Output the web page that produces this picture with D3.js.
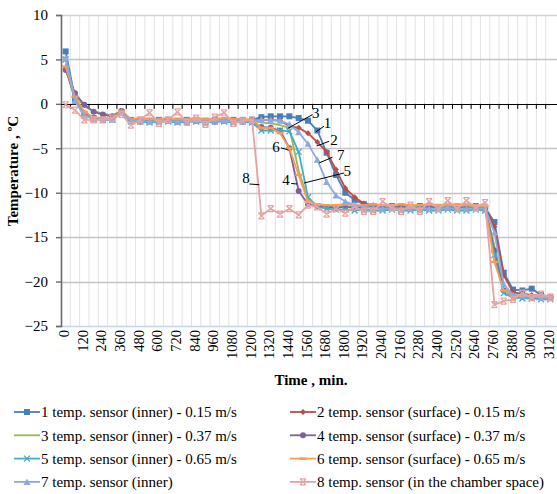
<!DOCTYPE html>
<html>
<head>
<meta charset="utf-8">
<script src="https://cdn.jsdelivr.net/npm/d3@7"></script>
<style>
body { margin: 0; background: #fff; }
svg, svg text { font-family: "Liberation Serif", "Times New Roman", "DejaVu Serif", serif; }
</style>
</head>
<body>
<div id="chart"></div>
<script>
// categories (minutes) and tick labels
var minutes = [0,60,120,180,240,300,360,420,480,540,600,660,720,780,840,900,960,1020,1080,1140,
  1200,1260,1320,1380,1440,1500,1560,1620,1680,1740,1800,1860,1920,1980,2040,2100,2160,2220,2280,2340,
  2400,2460,2520,2580,2640,2700,2760,2820,2880,2940,3000,3060,3120];
var xTickLabels = [0,120,240,360,480,600,720,840,960,1080,1200,1320,1440,1560,1680,1800,1920,2040,
  2160,2280,2400,2520,2640,2760,2880,3000,3120];
var yTicks = [10,5,0,-5,-10,-15,-20,-25];

// series values, one per minute category
var s1 = [5.9,0.6,-1.2,-1.6,-1.7,-1.7,-0.9,-1.8,-1.9,-1.9,
  -1.8,-1.9,-1.9,-1.8,-1.9,-1.9,-1.8,-1.9,-1.8,-1.8,
  -1.8,-1.5,-1.4,-1.4,-1.4,-1.6,-1.9,-3.0,-5.5,-8.0,
  -10.0,-10.8,-11.3,-11.5,-11.6,-11.5,-11.6,-11.6,-11.5,-11.6,
  -11.6,-11.5,-11.6,-11.6,-11.5,-11.7,-13.3,-19.0,-20.9,-21.0,
  -20.8,-21.5,-21.7];
var s2 = [4.0,0.5,-1.0,-1.6,-1.7,-1.7,-0.9,-1.9,-1.9,-2.0,
  -1.9,-1.9,-2.0,-1.9,-1.9,-2.0,-1.9,-1.9,-2.0,-1.9,
  -1.9,-1.8,-1.8,-1.9,-2.5,-2.7,-3.3,-4.3,-5.4,-7.4,
  -9.5,-10.5,-11.2,-11.4,-11.6,-11.6,-11.5,-11.6,-11.6,-11.7,
  -11.6,-11.6,-11.7,-11.6,-11.6,-11.7,-13.8,-19.3,-21.2,-21.4,
  -21.5,-21.6,-21.7];
var s3 = [4.5,1.0,-0.3,-0.8,-1.1,-1.3,-0.8,-1.8,-1.8,-1.9,
  -1.8,-1.8,-1.9,-1.8,-1.8,-1.9,-1.8,-1.8,-1.9,-1.8,
  -1.9,-2.1,-2.2,-2.4,-2.7,-7.5,-10.8,-11.4,-11.5,-11.5,
  -11.6,-11.5,-11.6,-11.6,-11.5,-11.6,-11.6,-11.5,-11.6,-11.6,
  -11.5,-11.6,-11.6,-11.5,-11.6,-11.6,-16.0,-20.8,-21.5,-21.6,
  -21.6,-21.7,-21.7];
var s4 = [3.8,1.2,-0.1,-0.9,-1.2,-1.4,-0.8,-1.9,-2.0,-1.9,
  -2.0,-1.9,-2.0,-2.0,-1.9,-2.0,-2.0,-1.9,-2.0,-2.0,
  -2.0,-2.6,-2.7,-3.0,-5.0,-9.8,-11.3,-11.5,-11.6,-11.7,
  -11.6,-11.7,-11.7,-11.6,-11.7,-11.7,-11.6,-11.7,-11.7,-11.6,
  -11.7,-11.7,-11.6,-11.7,-11.7,-11.7,-16.5,-21.0,-21.6,-21.7,
  -21.7,-21.8,-21.8];
var s5 = [5.0,0.4,-1.3,-1.7,-1.8,-1.8,-1.0,-2.0,-2.0,-2.1,
  -2.0,-2.0,-2.1,-2.0,-2.0,-2.1,-2.0,-2.0,-2.1,-2.0,
  -2.1,-3.0,-3.0,-3.0,-3.1,-5.4,-10.5,-11.6,-11.8,-11.9,
  -11.9,-12.0,-11.9,-12.0,-12.0,-11.9,-12.0,-12.0,-11.9,-12.0,
  -12.0,-11.9,-12.0,-12.0,-11.9,-12.0,-17.0,-21.3,-21.8,-21.9,
  -21.9,-22.0,-22.0];
var s6 = [4.2,0.8,-0.9,-1.5,-1.6,-1.6,-0.8,-1.7,-1.6,-1.7,
  -1.7,-1.6,-1.7,-1.7,-1.6,-1.7,-1.7,-1.6,-1.7,-1.7,
  -1.8,-2.7,-2.7,-3.3,-5.0,-8.0,-11.0,-11.3,-11.4,-11.4,
  -11.3,-11.4,-11.4,-11.3,-11.4,-11.4,-11.3,-11.4,-11.4,-11.3,
  -11.4,-11.4,-11.3,-11.4,-11.4,-11.5,-17.8,-21.0,-21.5,-21.6,
  -21.6,-21.7,-21.7];
var s7 = [5.2,0.3,-1.3,-1.7,-1.8,-1.8,-0.9,-1.9,-1.9,-2.0,
  -1.9,-1.9,-2.0,-1.9,-1.9,-2.0,-1.9,-1.9,-2.0,-1.9,
  -1.9,-1.8,-1.8,-1.9,-2.3,-3.2,-4.5,-6.3,-8.8,-10.3,
  -11.0,-11.4,-11.6,-11.7,-11.8,-11.7,-11.8,-11.8,-11.7,-11.8,
  -11.8,-11.7,-11.8,-11.8,-11.7,-11.8,-14.5,-20.3,-21.5,-21.6,
  -21.7,-21.8,-21.8];
var s8 = [-0.1,-0.7,-1.8,-1.8,-1.8,-1.6,-1.2,-2.4,-1.8,-1.0,
  -2.2,-1.8,-0.9,-2.1,-1.6,-2.3,-1.5,-1.0,-2.2,-1.9,
  -1.8,-12.6,-11.8,-12.4,-11.8,-12.5,-11.4,-11.6,-12.4,-11.8,
  -12.3,-11.6,-12.1,-12.1,-11.0,-11.7,-12.1,-11.4,-12.1,-11.0,
  -11.8,-10.9,-11.8,-10.9,-11.7,-11.1,-22.6,-22.2,-22.0,-21.3,
  -21.8,-21.4,-21.8];

var seriesNames = [
  "1 temp. sensor (inner) - 0.15 m/s",
  "2  temp. sensor (surface)  - 0.15 m/s",
  "3 temp. sensor (inner)  - 0.37 m/s",
  "4 temp. sensor (surface)  - 0.37 m/s",
  "5 temp. sensor (inner)  - 0.65 m/s",
  "6 temp. sensor (surface)   - 0.65 m/s",
  "7  temp. sensor (inner)",
  "8 temp. sensor (in the chamber space)"
];
var seriesValues = [s1, s2, s3, s4, s5, s6, s7, s8];
var seriesColors = ["#4a7ebb", "#be4b48", "#98b954", "#7d60a0", "#46aac5", "#f59d56", "#8eaadc", "#e6a3a2"];
var seriesMarkers = ["square", "diamond", "none", "circle", "x", "dash", "triangle", "star"];

// numbered callouts, in (category index, value) units
var callouts = [
  {t: "3", at: [26.84, -1.0], from: [26.48, -1.21], to: [23.81, -2.78]},
  {t: "1", at: [28.09, -2.14], from: [27.73, -2.51], to: [26.84, -3.16]},
  {t: "2", at: [28.8, -4.02], from: [28.27, -4.21], to: [26.93, -4.74]},
  {t: "7", at: [29.52, -5.72], from: [28.62, -6.01], to: [27.2, -6.65]},
  {t: "5", at: [30.22, -7.52], from: [29.87, -7.78], to: [25.59, -8.91]},
  {t: "6", at: [22.57, -4.88], from: [23.1, -4.96], to: [23.81, -5.15]},
  {t: "4", at: [23.64, -8.53], from: [24.2, -8.96], to: [24.84, -9.02]},
  {t: "8", at: [19.36, -8.34], from: [19.71, -9.02], to: [20.78, -9.1]}
];

var W = 557, H = 494;
var plot = {left: 61, right: 555, top: 15, bottom: 326};
var FONT = "'Liberation Serif', 'Times New Roman', serif";

var svg = d3.select("#chart")
  .append("svg")
    .attr("width", W)
    .attr("height", H)
    .attr("font-family", FONT);

var x = d3.scaleBand()
  .domain(minutes)
  .range([plot.left, plot.right])
  .paddingInner(0)
  .paddingOuter(0);

var y = d3.scaleLinear()
  .domain([-25, 10])
  .range([plot.bottom, plot.top]);

// category index -> pixel (for callouts)
function xi(i) { return plot.left + x.step() * (i + 0.5); }

// vertical gridlines at category boundaries
svg.append("g")
  .selectAll("line")
  .data(minutes.slice(1))
  .enter()
  .append("line")
    .attr("x1", function(d) { return x(d); })
    .attr("x2", function(d) { return x(d); })
    .attr("y1", y(10))
    .attr("y2", y(-25))
    .attr("stroke", "#e2e2e2")
    .attr("stroke-width", 1);

// horizontal gridlines
svg.append("g")
  .selectAll("line")
  .data(yTicks.filter(function(d) { return d !== 0; }))
  .enter()
  .append("line")
    .attr("x1", plot.left)
    .attr("x2", W)
    .attr("y1", function(d) { return Math.round(y(d)) + 0.5; })
    .attr("y2", function(d) { return Math.round(y(d)) + 0.5; })
    .attr("stroke", function(d) { return (d === 10 || d === -25) ? "#c3d3e8" : "#c4c4c4"; })
    .attr("stroke-width", 1.5);

// y axis
var yAxis = svg.append("g")
  .attr("transform", "translate(" + plot.left + ",0)")
  .call(d3.axisLeft(y).tickValues(yTicks).tickSize(5).tickPadding(8));
yAxis.attr("font-family", FONT).attr("font-size", 15);
yAxis.select(".domain").attr("stroke", "#6b6b6b").attr("stroke-width", 1.6);
yAxis.selectAll(".tick line").attr("stroke", "#6b6b6b").attr("stroke-width", 1.4);
yAxis.selectAll("text").attr("fill", "#000");

// x axis line crossing at zero, tick marks at category boundaries
svg.append("line")
  .attr("x1", plot.left)
  .attr("x2", W)
  .attr("y1", Math.round(y(0)) + 0.5)
  .attr("y2", Math.round(y(0)) + 0.5)
  .attr("stroke", "#000")
  .attr("stroke-width", 1.2);
svg.append("g")
  .selectAll("line")
  .data(minutes.slice(1))
  .enter()
  .append("line")
    .attr("x1", function(d) { return x(d); })
    .attr("x2", function(d) { return x(d); })
    .attr("y1", y(0))
    .attr("y2", y(0) + 5)
    .attr("stroke", "#000")
    .attr("stroke-width", 1);

// x tick labels, below the plot
svg.append("g")
  .attr("font-size", 14.5)
  .selectAll("text")
  .data(xTickLabels)
  .enter()
  .append("text")
    .attr("transform", function(d) {
      return "translate(" + (x(d) + x.bandwidth() / 2 + 3.5) + "," + (plot.bottom + 4) + ")rotate(-90)";
    })
    .attr("text-anchor", "end")
    .text(function(d) { return d; });

// axis titles
svg.append("text")
  .attr("transform", "translate(18,171)rotate(-90)")
  .attr("text-anchor", "middle")
  .attr("font-size", 15)
  .attr("font-weight", "bold")
  .text("Temperature , \u00baC");

svg.append("text")
  .attr("x", 311)
  .attr("y", 385)
  .attr("text-anchor", "middle")
  .attr("font-size", 15)
  .attr("font-weight", "bold")
  .text("Time , min.");

// marker shapes
function drawMarker(g, type, color, cx, cy) {
  if (type === "square") {
    g.append("rect").attr("x", cx - 3).attr("y", cy - 3).attr("width", 6).attr("height", 6)
      .attr("fill", color);
  } else if (type === "diamond") {
    g.append("path").attr("d", "M" + cx + "," + (cy - 3) + "L" + (cx + 3) + "," + cy + "L" + cx + "," + (cy + 3) + "L" + (cx - 3) + "," + cy + "Z")
      .attr("fill", color);
  } else if (type === "circle") {
    g.append("circle").attr("cx", cx).attr("cy", cy).attr("r", 3).attr("fill", color);
  } else if (type === "x") {
    g.append("path").attr("d", "M" + (cx - 3) + "," + (cy - 3) + "L" + (cx + 3) + "," + (cy + 3) + "M" + (cx - 3) + "," + (cy + 3) + "L" + (cx + 3) + "," + (cy - 3))
      .attr("stroke", color).attr("stroke-width", 1.3).attr("fill", "none");
  } else if (type === "dash") {
    g.append("rect").attr("x", cx - 3.5).attr("y", cy - 1.2).attr("width", 7).attr("height", 2.4)
      .attr("fill", color);
  } else if (type === "triangle") {
    g.append("path").attr("d", "M" + cx + "," + (cy - 3.5) + "L" + (cx + 3.5) + "," + (cy + 3) + "L" + (cx - 3.5) + "," + (cy + 3) + "Z")
      .attr("fill", color);
  } else if (type === "star") {
    g.append("path").attr("d", "M" + (cx - 3) + "," + (cy - 3) + "L" + (cx + 3) + "," + (cy + 3) + "M" + (cx - 3) + "," + (cy + 3) + "L" + (cx + 3) + "," + (cy - 3)
        + "M" + (cx - 3) + "," + (cy - 3) + "L" + (cx + 3) + "," + (cy - 3) + "M" + (cx - 3) + "," + (cy + 3) + "L" + (cx + 3) + "," + (cy + 3))
      .attr("stroke", color).attr("stroke-width", 1.2).attr("fill", "none");
  }
}

// series lines + markers
var line = d3.line()
  .x(function(d, i) { return x(minutes[i]) + x.bandwidth() / 2; })
  .y(function(d) { return y(d); });

var plotArea = svg.append("g");
seriesValues.forEach(function(vals, k) {
  plotArea.append("path")
    .datum(vals)
    .attr("d", line)
    .attr("fill", "none")
    .attr("stroke", seriesColors[k])
    .attr("stroke-width", 1.8)
    .attr("stroke-linejoin", "round");
  var mg = plotArea.append("g");
  vals.forEach(function(v, i) {
    drawMarker(mg, seriesMarkers[k], seriesColors[k], x(minutes[i]) + x.bandwidth() / 2, y(v));
  });
});

// callouts
var cg = svg.append("g").attr("font-size", 15);
callouts.forEach(function(c) {
  cg.append("line")
    .attr("x1", xi(c.from[0])).attr("y1", y(c.from[1]))
    .attr("x2", xi(c.to[0])).attr("y2", y(c.to[1]))
    .attr("stroke", "#000").attr("stroke-width", 1);
  cg.append("text")
    .attr("x", xi(c.at[0]))
    .attr("y", y(c.at[1]))
    .attr("dy", "0.35em")
    .attr("text-anchor", "middle")
    .text(c.t);
});

// legend
var legend = svg.append("g").attr("font-size", 15);
seriesNames.forEach(function(name, k) {
  var col = k % 2, row = Math.floor(k / 2);
  var lx = col === 0 ? 14 : 290;
  var ly = 412 + row * 23.3;
  legend.append("line")
    .attr("x1", lx).attr("x2", lx + 26)
    .attr("y1", ly).attr("y2", ly)
    .attr("stroke", seriesColors[k]).attr("stroke-width", 1.8);
  drawMarker(legend, seriesMarkers[k], seriesColors[k], lx + 13, ly);
  legend.append("text")
    .attr("x", lx + 27)
    .attr("y", ly)
    .attr("dy", "0.35em")
    .text(name);
});
</script>
</body>
</html>
